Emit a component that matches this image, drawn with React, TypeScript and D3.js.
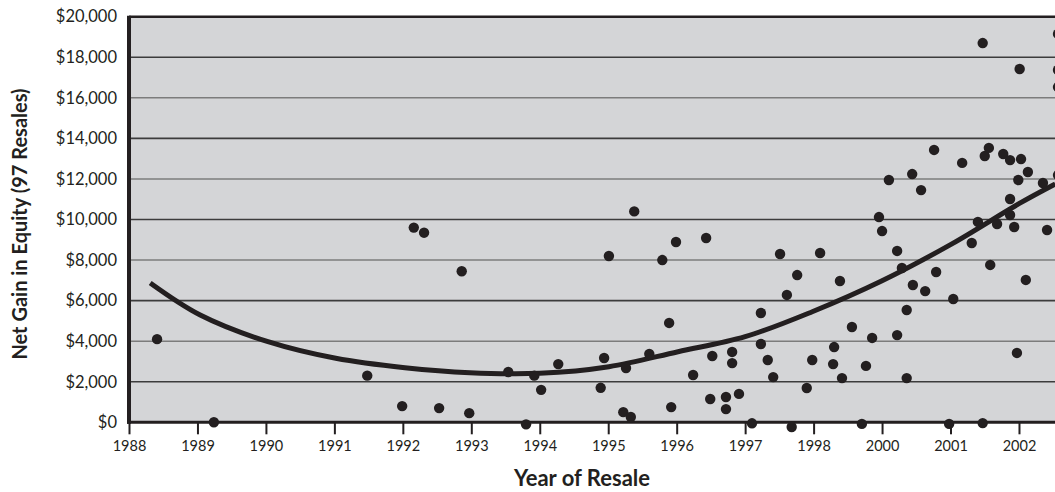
import React, { useEffect, useRef } from 'react';
import * as d3 from 'd3';

// axis labels as printed (the original skips 1999)
const tickYears = [1988, 1989, 1990, 1991, 1992, 1993, 1994, 1995, 1996, 1997, 1998, 2000, 2001, 2002];
const gainTicks = [0, 2000, 4000, 6000, 8000, 10000, 12000, 14000, 16000, 18000, 20000];

// 97 resales
const resaleYears = [
  1988.41, 1989.24, 1991.48, 1991.99, 1992.16, 1992.31, 1992.53, 1992.86, 1992.97, 1993.54,
  1993.80, 1993.92, 1994.02, 1994.27, 1994.89, 1994.94, 1995.01, 1995.22, 1995.26, 1995.33,
  1995.38, 1995.60, 1995.79, 1995.89, 1995.92, 1995.99, 1996.24, 1996.43, 1996.49, 1996.52,
  1996.72, 1996.72, 1996.81, 1996.81, 1996.91, 1997.10, 1997.23, 1997.23, 1997.33, 1997.41,
  1997.51, 1997.61, 1997.68, 1997.76, 1997.90, 1997.98, 1998.19, 1998.57, 1998.60, 1998.77,
  1998.83, 1999.12, 1999.41, 1999.53, 1999.71, 1999.91, 2000.00, 2000.10, 2000.22, 2000.22,
  2000.29, 2000.36, 2000.36, 2000.44, 2000.45, 2000.57, 2000.63, 2000.76, 2000.79, 2000.98,
  2001.04, 2001.17, 2001.31, 2001.40, 2001.47, 2001.47, 2001.50, 2001.56, 2001.58, 2001.68,
  2001.77, 2001.87, 2001.87, 2001.87, 2001.93, 2001.97, 2001.99, 2002.01, 2002.03, 2002.10,
  2002.13, 2002.35, 2002.41, 2002.57, 2002.57, 2002.57, 2002.57
];
const netGains = [
  4100, 0, 2300, 800, 9600, 9350, 700, 7450, 450, 2480,
  -100, 2300, 1600, 2870, 1700, 3170, 8200, 500, 2680, 260,
  10400, 3370, 8000, 4900, 750, 8890, 2330, 9090, 1150, 3270,
  1250, 650, 3470, 2920, 1400, -50, 5390, 3860, 3070, 2230,
  8300, 6280, -230, 7260, 1690, 3070, 8350, 2870, 3710, 6970,
  2180, 4700, -80, 2780, 4160, 10120, 9430, 11950, 8450, 4300,
  7610, 5540, 2180, 12240, 6770, 11450, 6470, 13430, 7410, -80,
  6080, 12790, 8840, 9880, 18700, -40, 13130, 13530, 7760, 9780,
  13230, 12930, 11010, 10220, 9630, 3420, 11950, 17420, 12980, 7020,
  12340, 11800, 9480, 19150, 17370, 16530, 12190
];

// trend curve
const trendYears = [1988.31, 1989.04, 1990.03, 1991.02, 1992.03, 1992.98, 1994.0, 1995.01, 1996.02, 1997.0, 1997.98, 2000.0, 2001.02, 2002.0, 2002.53];
const trendGains = [6870, 5290, 3975, 3156, 2692, 2446, 2416, 2742, 3481, 4222, 5454, 6980, 8800, 10780, 11750];

export default function App() {
  const ref = useRef<SVGSVGElement>(null);

  useEffect(() => {
    const width = 1055, height = 492;
    const margin = { top: 16.7, right: 0, bottom: 69.7, left: 129 };
    const step = 68.46;
    const ink = '#231f20';
    const svg = d3.select(ref.current);
    svg.selectAll('*').remove();

    const x = d3.scaleLinear()
      .domain(tickYears)
      .range(tickYears.map((d, i) => margin.left + i * step));
    const y = d3.scaleLinear()
      .domain([0, 20000])
      .range([height - margin.bottom, margin.top]);

    svg.append('defs').append('clipPath').attr('id', 'plot-clip')
      .append('rect')
      .attr('x', margin.left).attr('y', margin.top)
      .attr('width', width - margin.left).attr('height', y(0) - margin.top + 14);

    svg.append('rect')
      .attr('x', margin.left).attr('y', margin.top)
      .attr('width', width - margin.left).attr('height', y(0) - margin.top)
      .attr('fill', '#d4d5d7');

    // gridlines
    svg.append('g')
      .selectAll('line').data(gainTicks.filter(d => d > 0 && d < 20000)).enter().append('line')
      .attr('x1', margin.left).attr('x2', width)
      .attr('y1', d => y(d)).attr('y2', d => y(d))
      .attr('stroke', (d, i) => (i % 2 === 0 ? '#3c3c3c' : '#7c7c7c'))
      .attr('stroke-width', 1.6);

    // top border
    svg.append('line')
      .attr('x1', margin.left).attr('x2', width)
      .attr('y1', y(20000)).attr('y2', y(20000))
      .attr('stroke', ink).attr('stroke-width', 2.6);

    const xAxis = g => g
      .attr('transform', `translate(0,${y(0)})`)
      .call(d3.axisBottom(x).tickValues(tickYears).tickFormat(d3.format('d')).tickSize(12).tickSizeOuter(0).tickPadding(6))
      .call(g => g.select('.domain').attr('stroke', ink).attr('stroke-width', 3).attr('d', `M${margin.left - 2},0H${width}`))
      .call(g => g.selectAll('.tick line').attr('stroke', ink).attr('stroke-width', 2))
      .call(g => g.selectAll('.tick text').attr('fill', ink).attr('font-size', 14.5).attr('font-family', 'Lato'));

    const yAxis = g => g
      .attr('transform', `translate(${margin.left},0)`)
      .call(d3.axisLeft(y).tickValues(gainTicks).tickFormat(d => '$' + d3.format(',')(d)).tickSize(0).tickPadding(12))
      .call(g => g.select('.domain').attr('stroke', ink).attr('stroke-width', 4).attr('d', `M0,${margin.top - 1}V${y(0) + 1.5}`))
      .call(g => g.selectAll('.tick text').attr('fill', ink).attr('font-size', 16.5).attr('font-family', 'Lato'));

    svg.append('g').call(xAxis);
    svg.append('g').call(yAxis);

    const plot = svg.append('g').attr('clip-path', 'url(#plot-clip)');

    const line = d3.line<number>()
      .x((d, i) => x(trendYears[i]))
      .y(d => y(d))
      .curve(d3.curveCatmullRom);
    plot.append('path')
      .datum(trendGains)
      .attr('d', line)
      .attr('fill', 'none')
      .attr('stroke', ink)
      .attr('stroke-width', 5);

    plot.append('g')
      .attr('fill', ink)
      .selectAll('circle').data(netGains).enter().append('circle')
      .attr('cx', (d, i) => x(resaleYears[i]))
      .attr('cy', d => y(d))
      .attr('r', 5.2);

    svg.append('text')
      .attr('x', 582).attr('y', 486)
      .attr('text-anchor', 'middle')
      .attr('font-family', 'Lato').attr('font-weight', 'bold').attr('font-size', 22)
      .attr('fill', ink)
      .text('Year of Resale');

    svg.append('text')
      .attr('transform', `translate(27,224) rotate(-90)`)
      .attr('text-anchor', 'middle')
      .attr('font-family', 'Lato').attr('font-weight', 'bold').attr('font-size', 20)
      .attr('fill', ink)
      .text('Net Gain in Equity (97 Resales)');
  }, []);

  return (
    <svg ref={ref} width={1055} height={492} style={{ position: 'absolute', left: 0, top: 0, background: '#fff' }} />
  );
}
